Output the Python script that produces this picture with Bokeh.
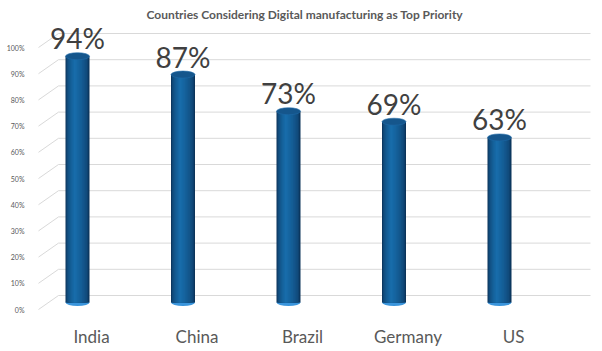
import math
from bokeh.plotting import figure
from bokeh.models import Range1d, FixedTicker, LinearAxis
from bokeh.core.properties import value
from bokeh.embed import file_html
from bokeh.resources import INLINE

# ---- data ----
countries = ["India", "China", "Brazil", "Germany", "US"]
pct = [94, 87, 73, 69, 63]
y_ticks = [0, 10, 20, 30, 40, 50, 60, 70, 80, 90, 100]
y_tick_labels = ["0%", "10%", "20%", "30%", "40%", "50%", "60%", "70%", "80%", "90%", "100%"]
title_text = "Countries Considering Digital manufacturing as Top Priority"

# ---- layout constants (pixels) ----
W, H = 602, 351
FL, FR, FT, FB = 33, 597, 25, 315
PX_X, X0PX = 105.5, 77.0      # px per category, first category centre
PX_Y, Y0PX = 2.62, 309.0      # px per percent, zero line (front)
x_start = (FL - X0PX) / PX_X
x_end = (FR - X0PX) / PX_X
y_start = -(FB - Y0PX) / PX_Y
y_end = (Y0PX - FT) / PX_Y
BACK_DY = 14 / PX_Y           # depth offset of back wall
BASE = 7 / PX_Y               # cylinder base depth offset
LABEL_DX = 14 / PX_X          # category labels shifted right

p = figure(width=W, height=H,
           x_range=Range1d(x_start, x_end), y_range=Range1d(y_start, y_end),
           output_backend="svg", toolbar_location=None,
           x_axis_type=None,
           min_border_left=FL, min_border_right=W - FR,
           min_border_top=FT, min_border_bottom=H - FB)
p.outline_line_color = None
p.background_fill_color = "white"
p.border_fill_color = "white"
p.xgrid.visible = False
p.ygrid.visible = False

p.title.text = title_text
p.title.align = "left"
p.title.text_font = "Lato"
p.title.text_font_size = "12px"
p.title.text_font_style = "bold"
p.title.text_color = "#595959"
p.title.offset = 113
p.title.standoff = 8

# y axis
ya = p.yaxis[0]
ya.ticker = FixedTicker(ticks=y_ticks)
ya.major_label_overrides = {t: l for t, l in zip(y_ticks, y_tick_labels)}
ya.axis_line_color = None
ya.major_tick_line_color = None
ya.minor_tick_line_color = None
ya.major_label_text_font = "Lato"
ya.major_label_text_font_size = "7px"
ya.major_label_text_color = "#595959"
ya.major_label_standoff = 3

# x axis (category labels)
idx = list(range(len(countries)))
p.extra_x_ranges = {"lab": Range1d(x_start - LABEL_DX, x_end - LABEL_DX)}
xa = LinearAxis(x_range_name="lab", ticker=FixedTicker(ticks=idx),
                major_label_overrides={i: c for i, c in zip(idx, countries)},
                axis_line_color=None, major_tick_line_color=None,
                minor_tick_line_color=None,
                major_label_text_font="Lato", major_label_text_font_size="17px",
                major_label_text_color="#595959", major_label_standoff=4)
p.add_layout(xa, "below")

# back wall gridlines + perspective diagonals
gx0 = (58 - X0PX) / PX_X
gx1 = (590 - X0PX) / PX_X
dx0 = (38 - X0PX) / PX_X
p.segment(x0=[gx0] * len(y_ticks), y0=[t + BACK_DY for t in y_ticks],
          x1=[gx1] * len(y_ticks), y1=[t + BACK_DY for t in y_ticks],
          line_color="#d9d9d9", line_width=1)
p.segment(x0=[dx0] * len(y_ticks), y0=y_ticks,
          x1=[gx0] * len(y_ticks), y1=[t + BACK_DY for t in y_ticks],
          line_color="#d9d9d9", line_width=1)

# cylinders
CYL_W = 24 / PX_X
tops = [v + BASE for v in pct]
p.ellipse(x=idx, y=[BASE] * len(idx), width=24, height=7,
          width_units="screen", height_units="screen",
          fill_color="#3a95dc", line_color=None)

# nested bars: widest (darkest) first, narrowing toward highlight
dark = (12, 52, 90)
bright = (24, 108, 170)
N = 12
HL = -0.12 * CYL_W            # highlight slightly left of centre
for k in range(N):
    frac = 1 - k / N                     # width fraction
    f = (k / (N - 1)) ** 0.5
    c = tuple(int(dark[j] + (bright[j] - dark[j]) * f) for j in range(3))
    col = "#%02x%02x%02x" % c
    w = CYL_W * frac
    cx = HL * (1 - frac)
    p.vbar(x=[i + cx for i in idx], width=w, top=tops, bottom=BASE,
           fill_color=col, line_color=None)

p.ellipse(x=idx, y=tops, width=24, height=7,
          width_units="screen", height_units="screen",
          fill_color="#15568c", line_color="#1e6aa8", line_width=0.6)

# value labels
p.text(x=idx, y=tops, text=[f"{v}%" for v in pct],
       text_align="center", text_baseline="bottom", y_offset=-1,
       text_font=value("Lato"), text_font_size="28px", text_color="#404040")

open("out.html", "w").write(file_html(p, INLINE))
